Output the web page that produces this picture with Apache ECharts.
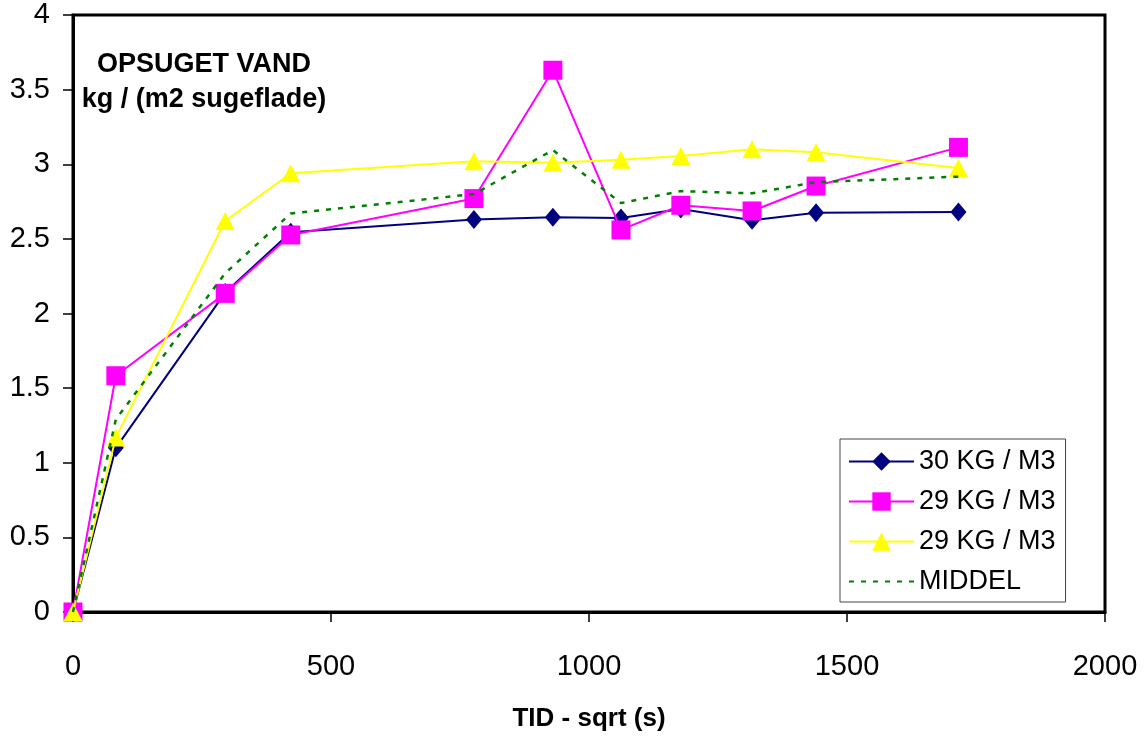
<!DOCTYPE html>
<html>
<head>
<meta charset="utf-8">
<script src="https://cdn.jsdelivr.net/npm/echarts@6/dist/echarts.min.js"></script>
<style>
html,body{margin:0;padding:0;background:#fff;}
#c{width:1147px;height:738px;}
</style>
</head>
<body>
<div id="c"></div>
<script>
var tid = [0, 83, 295, 422, 777, 930, 1062, 1178, 1316, 1440, 1716];
var s30 = [0, 1.10, 2.14, 2.545, 2.63, 2.645, 2.64, 2.70, 2.625, 2.675, 2.68];
var s29a = [0, 1.583, 2.135, 2.526, 2.77, 3.63, 2.56, 2.725, 2.687, 2.854, 3.113];
var s29b = [0, 1.17, 2.62, 2.94, 3.02, 3.01, 3.03, 3.055, 3.10, 3.08, 2.975];
var middel = [0, 1.29, 2.27, 2.67, 2.80, 3.095, 2.74, 2.82, 2.805, 2.88, 2.917];
var names = ['30 KG / M3', '29 KG / M3', '29 KG / M3 ', 'MIDDEL'];
var xTicks = {min: 0, max: 2000, interval: 500};
var yTicks = {min: 0, max: 4, interval: 0.5};
var titleLines = ['OPSUGET VAND', 'kg / (m2 sugeflade)'];

function pairs(ys){ return tid.map(function(x,i){ return [x, ys[i]]; }); }

var FONT = 'Liberation Sans';
var chart = echarts.init(document.getElementById('c'));
chart.setOption({
  animation: false,
  backgroundColor: '#fff',
  textStyle: {fontFamily: FONT},
  grid: {left: 73, right: 42, top: 15, bottom: 126, show: true, borderColor: '#000', borderWidth: 3, backgroundColor: 'transparent'},
  graphic: [{
    type: 'text', x: 204, y: 65,
    style: {text: titleLines[0], font: 'bold 27px "Liberation Sans"', fill: '#000', align: 'center', verticalAlign: 'middle'}
  }, {
    type: 'text', x: 204, y: 100,
    style: {text: titleLines[1], font: 'bold 27px "Liberation Sans"', fill: '#000', align: 'center', verticalAlign: 'middle'}
  }],
  legend: {
    orient: 'vertical', left: 840, top: 439,
    padding: [9, 10, 7, 8],
    itemWidth: 65, itemHeight: 23, itemGap: 13,
    borderColor: '#444', borderWidth: 1, backgroundColor: '#fff',
    textStyle: {fontFamily: FONT, fontSize: 27, color: '#000', lineHeight: 26},
    formatter: function(n){ return n.trim(); },
    data: [names[0], names[1], names[2], {name: names[3], itemStyle: {opacity: 0}}]
  },
  xAxis: {
    type: 'value', min: xTicks.min, max: xTicks.max, interval: xTicks.interval,
    name: 'TID - sqrt (s)', nameLocation: 'middle', nameGap: 94,
    nameTextStyle: {fontFamily: FONT, fontSize: 26, fontWeight: 'bold', color: '#000'},
    axisLine: {show: true, lineStyle: {color: '#000', width: 3}},
    axisTick: {show: true, length: 10, lineStyle: {color: '#000', width: 1.5}},
    axisLabel: {fontFamily: FONT, fontSize: 29, color: '#000', margin: 40, formatter: function(v){ return String(v); }},
    splitLine: {show: false}
  },
  yAxis: {
    type: 'value', min: yTicks.min, max: yTicks.max, interval: yTicks.interval,
    axisLine: {show: true, lineStyle: {color: '#000', width: 3}},
    axisTick: {show: true, length: 10, lineStyle: {color: '#000', width: 1.5}},
    axisLabel: {fontFamily: FONT, fontSize: 29, color: '#000', margin: 23, formatter: function(v){ return String(v); }},
    splitLine: {show: false}
  },
  series: [
    {name: names[0], type: 'line', z: 2, data: pairs(s30), symbol: 'diamond', symbolSize: [16, 19],
     lineStyle: {color: '#000080', width: 2}, itemStyle: {color: '#000080'}},
    {name: names[1], type: 'line', z: 3, data: pairs(s29a), symbol: 'rect', symbolSize: 19,
     lineStyle: {color: '#FF00FF', width: 2}, itemStyle: {color: '#FF00FF'}},
    {name: names[2], type: 'line', z: 4, data: pairs(s29b), symbol: 'triangle', symbolSize: [19, 18],
     lineStyle: {color: '#FFFF00', width: 2}, itemStyle: {color: '#FFFF00'}},
    {name: names[3], type: 'line', z: 5, data: pairs(middel), symbol: 'none', showSymbol: false,
     lineStyle: {color: '#008000', width: 2.5, type: [5, 7]}, itemStyle: {color: '#008000'}}
  ]
});
</script>
</body>
</html>
